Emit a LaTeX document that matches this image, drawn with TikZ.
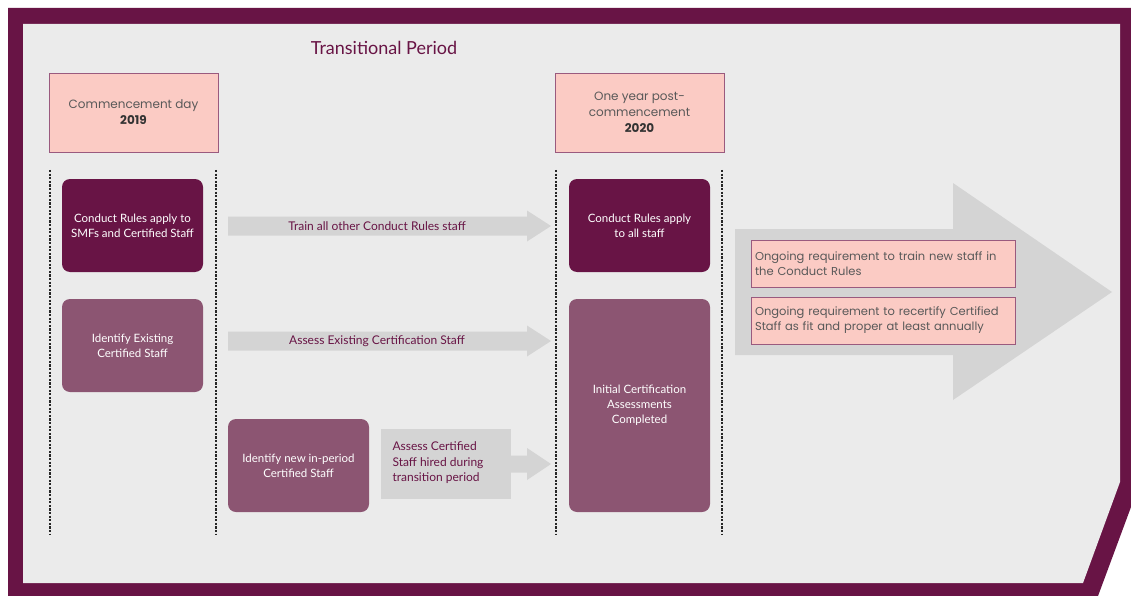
\documentclass[tikz,border=0pt]{standalone}
\usepackage{fontspec}
\setmainfont{Lato}
\newfontfamily\wideFont{Poppins}
\usetikzlibrary{positioning}
\definecolor{plum}{HTML}{681445}
\definecolor{mauve}{HTML}{8C5572}
\definecolor{blush}{HTML}{FBCBC4}
\definecolor{blushLine}{HTML}{9A5A7E}
\definecolor{paper}{HTML}{EBEBEB}
\definecolor{arrowGrey}{HTML}{D4D4D4}
\definecolor{softText}{HTML}{595959}

\begin{document}
\begin{tikzpicture}
[x=1pt,y=-1pt,
  phaseBox/.style={rounded corners=8pt,text=white,align=center,inner sep=2pt,%
    minimum width=141pt,minimum height=93pt,font=\fontsize{11.5}{15}\selectfont},
  ruleBox/.style={phaseBox,fill=plum},
  certBox/.style={phaseBox,fill=mauve},
  dateBox/.style={fill=blush,draw=blushLine,thin,align=center,text=softText,%
    minimum width=169pt,minimum height=79pt,font=\wideFont\fontsize{12}{16}\selectfont},
  noteBox/.style={fill=blush,draw=blushLine,thin,align=left,text=softText,%
    text width=256pt,inner sep=4pt,minimum height=47pt,font=\wideFont\fontsize{11.5}{15}\selectfont},
  arrowLabel/.style={text=plum,font=\fontsize{12}{15.5}\selectfont},
  dividerLine/.style={line width=1.1pt,dash pattern=on 2.2pt off 1.4pt,black!85}]
\useasboundingbox (0,0) rectangle (1131,596);

% frame
\fill[plum] (8,8) -- (1131,8) -- (1131,507) -- (1098,596) -- (8,596) -- cycle;
\fill[paper] (23,24) -- (1120,24) -- (1120,482) -- (1083,583) -- (23,583) -- cycle;

\node[text=plum,font=\fontsize{18}{20}\selectfont] (title) at (384,48) {Transitional Period};

% dates
\node[dateBox] (start) at (133.5,112.5) {Commencement day\\{\bfseries\color{black!80}2019}};
\node[dateBox] (later) at (639.5,112.5) {One year post-\\commencement\\{\bfseries\color{black!80}2020}};

\foreach \xd in {50,216,556,722}
{
  \draw[dividerLine] (\xd,170) -- (\xd,534);
}

% grey arrows
\foreach \yc/\arrowText in {226/Train all other Conduct Rules staff,
  341/Assess Existing Certification Staff}
{
  \fill[arrowGrey] (228,\yc-9.5) -- (527,\yc-9.5) -- (527,\yc-15.5) -- (551,\yc)
    -- (527,\yc+15.5) -- (527,\yc+9.5) -- (228,\yc+9.5) -- cycle;
  \node[arrowLabel] at (377,\yc) {\arrowText};
}
\fill[arrowGrey] (381,429) rectangle (511,499);
\fill[arrowGrey] (510,455.5) -- (527,455.5) -- (527,448) -- (551,464)
  -- (527,480) -- (527,472.5) -- (510,472.5) -- cycle;
\node[arrowLabel,align=left,anchor=west] (hired) at (389,463)
  {Assess Certified\\Staff hired during\\transition period};

\fill[arrowGrey] (735,229) -- (953,229) -- (953,183) -- (1112,292) -- (953,400)
  -- (953,355) -- (735,355) -- cycle;

% columns
\node[ruleBox] (smfRules) at (132.5,225.5) {Conduct Rules apply to\\SMFs and Certified Staff};
\node[ruleBox] (allRules) at (639.5,225.5) {Conduct Rules apply\\to all staff};
\node[certBox] (existing) at (132.5,345.5) {Identify Existing\\Certified Staff};
\node[certBox] (newStaff) at (298.5,465.5) {Identify new in-period\\Certified Staff};
\node[certBox,minimum height=213pt] (done) at (639.5,405.5)
  {Initial Certification\\Assessments\\Completed};

% ongoing
\node[noteBox] (trainNote) at (883,263.5) {Ongoing requirement to train new staff in\\the Conduct Rules};
\node[noteBox] (recertNote) at (883,320.5) {Ongoing requirement to recertify Certified\\Staff as fit and proper at least annually};
\end{tikzpicture}
\end{document}
